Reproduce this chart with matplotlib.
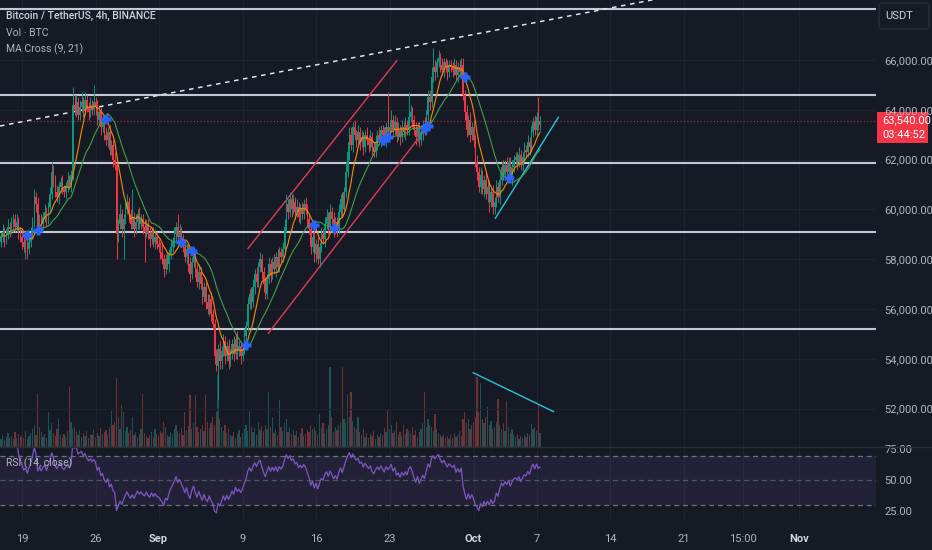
import numpy as np
import pandas as pd
import matplotlib
matplotlib.use("Agg")
import matplotlib.pyplot as plt
from matplotlib.patches import FancyBboxPatch, Rectangle
from matplotlib.lines import Line2D
from matplotlib.transforms import IdentityTransform

plt.rcParams['font.family'] = ['Liberation Sans Narrow', 'Roboto', 'DejaVu Sans']

# --- data: BTC/USDT 4h candles, days counted from Aug 19 00:00 ---
start_day = -2.0
candles_per_day = 6
first_open = 58700

closes = [
    58900, 59100, 58800, 59000, 59300, 59200,
    59400, 59600, 59300, 59500, 59100, 58900,
    58700, 58500, 58600, 58400, 58700, 59000,
    59500, 60500, 60200, 59300, 59600, 59400,
    59700, 59900, 59600, 60100, 60600, 61500,
    61200, 60700, 60500, 60900, 61100, 60800,
    60700, 60900, 61200, 61000, 61400, 64200,
    64000, 64300, 63800, 64100, 64300, 64000,
    64400, 64100, 63900, 64200, 64000, 64300,
    64100, 63600, 63900, 63300, 63500, 63000,
    62800, 63100, 62400, 62600, 62000, 61800,
    59000, 59400, 59800, 59200, 59600, 60000,
    60300, 59800, 59400, 59700, 59200, 59500,
    59800, 59400, 59600, 59300, 59100, 59400,
    59000, 58800, 59100, 58700, 58900, 58600,
    58500, 58300, 58000, 57600, 58000, 57800,
    58200, 58500, 58700, 59000, 59300, 58900,
    59100, 58800, 58500, 58100, 58400, 57800,
    57400, 57900, 58200, 57600, 57100, 57500,
    57000, 56500, 56900, 56300, 56000, 56400,
    55800, 55400, 54100, 53700, 54400, 53900,
    54300, 54700, 54100, 54500, 53900, 54200,
    54600, 54200, 54800, 54300, 54500, 54100,
    54400, 54900, 55300, 56200, 56600, 56300,
    56900, 57400, 57100, 57700, 58000, 57500,
    57000, 56600, 57200, 57800, 57400, 57900,
    57600, 58100, 57700, 58300, 58100, 58400,
    59300, 60200, 59900, 60400, 60000, 60300,
    59900, 60100, 59700, 60000, 59800, 60200,
    60000, 59600, 59200, 58500, 58900, 58200,
    58600, 58000, 58500, 59000, 58800, 59400,
    59700, 59300, 59900, 59600, 59200, 59500,
    59200, 59900, 60400, 60000, 60700, 61500,
    62300, 63000, 62600, 63300, 63000, 62800,
    63100, 62700, 62900, 62500, 63000, 62800,
    62600, 62900, 62500, 62300, 62700, 63000,
    62800, 63200, 63000, 62800, 63300, 63100,
    63300, 63600, 63200, 63500, 63000, 63200,
    62900, 63300, 63100, 63400, 63200, 63700,
    63900, 63600, 63200, 62900, 63300, 62800,
    63100, 63400, 63200, 63800, 64500, 64300,
    65300, 65700, 65500, 65900, 66100, 65800,
    65600, 65900, 65700, 65500, 65800, 65700,
    65600, 65800, 65400, 65700, 65500, 65800,
    64600, 63900, 63200, 63600, 63000, 63300,
    62800, 61900, 61500, 60900, 61400, 60800,
    61200, 60600, 60900, 60300, 60700, 60100,
    60300, 60900, 60500, 61200, 61700, 61400,
    61800, 61500, 61900, 61300, 61700, 62000,
    62100, 61900, 62200, 61800, 62100, 62400,
    62300, 62700, 62500, 63100, 63500, 63200,
    63700, 63400, 63540,
]

# wick lengths above / below the body, in hundreds of USDT
upper_wicks = [
    2, 3, 2, 2, 3, 2,  3, 2, 2, 3, 2, 2,  2, 3, 2, 2, 2, 3,
    2, 3, 2, 3, 2, 2,  2, 3, 2, 2, 3, 4,  3, 2, 3, 2, 2, 3,
    2, 2, 3, 2, 2, 7,  4, 3, 2, 3, 4, 2,  3, 2, 2, 3, 2, 7,
    2, 3, 2, 2, 3, 2,  3, 2, 3, 2, 2, 3,  3, 2, 4, 2, 2, 3,
    3, 2, 2, 11, 2, 3, 2, 3, 2, 2, 3, 2,  2, 3, 2, 2, 3, 2,
    2, 2, 3, 2, 2, 3,  2, 3, 2, 3, 2, 5,  3, 2, 2, 3, 2, 2,
    3, 2, 3, 2, 2, 3,  2, 3, 2, 2, 3, 2,  3, 2, 2, 3, 2, 3,
    2, 3, 2, 2, 3, 2,  2, 3, 2, 3, 2, 2,  2, 3, 2, 3, 2, 3,
    3, 2, 3, 2, 3, 2,  2, 3, 2, 3, 2, 2,  3, 2, 3, 2, 2, 3,
    3, 4, 2, 3, 2, 3,  2, 3, 2, 2, 3, 2,  3, 2, 2, 3, 2, 3,
    2, 3, 2, 3, 2, 3,  3, 2, 3, 2, 3, 2,  2, 3, 2, 3, 2, 4,
    4, 3, 3, 2, 3, 2,  3, 2, 3, 2, 2, 3,  2, 3, 2, 2, 3, 2,
    3, 2, 2, 3, 2, 14, 3, 4, 2, 3, 2, 3,  2, 3, 2, 3, 2, 10,
    3, 2, 2, 3, 2, 2,  3, 2, 3, 2, 3, 3,  4, 8, 3, 2, 3, 2,
    3, 2, 2, 3, 2, 2,  2, 3, 2, 2, 3, 3,  3, 2, 3, 2, 3, 2,
    3, 2, 3, 2, 3, 2,  2, 3, 2, 3, 2, 3,  2, 3, 2, 3, 2, 3,
    2, 3, 2, 2, 3, 2,  2, 2, 3, 2, 2, 3,  2, 3, 2, 3, 2, 3,
    2, 8, 2,
]
lower_wicks = [
    2, 2, 3, 2, 2, 3,  2, 3, 2, 2, 3, 2,  3, 2, 5, 4, 2, 2,
    2, 2, 3, 2, 2, 3,  2, 2, 3, 2, 2, 2,  3, 2, 2, 3, 2, 2,
    2, 3, 2, 2, 3, 2,  2, 3, 2, 2, 2, 3,  2, 2, 3, 2, 2, 2,
    3, 2, 2, 3, 2, 2,  2, 3, 2, 2, 3, 2,  10, 3, 2, 3, 12, 2,
    2, 3, 2, 2, 3, 2,  3, 2, 2, 3, 12, 2, 2, 3, 2, 2, 3, 2,
    2, 3, 2, 3, 2, 2,  3, 2, 2, 2, 3, 2,  2, 3, 2, 2, 3, 3,
    3, 2, 2, 3, 2, 3,  2, 3, 2, 3, 2, 3,  3, 2, 3, 2, 13, 3,
    3, 2, 3, 2, 3, 2,  2, 3, 2, 3, 2, 3,  2, 2, 3, 2, 2, 3,
    2, 3, 2, 2, 2, 3,  3, 2, 2, 2, 3, 2,  2, 3, 2, 2, 3, 2,
    2, 2, 3, 2, 3, 2,  3, 2, 2, 3, 2, 2,  2, 3, 2, 3, 2, 3,
    3, 2, 3, 2, 2, 3,  2, 3, 2, 2, 3, 2,  3, 2, 2, 3, 2, 2,
    2, 3, 2, 3, 2, 3,  2, 3, 2, 3, 2, 2,  3, 2, 3, 2, 2, 3,
    2, 3, 2, 2, 3, 2,  2, 2, 3, 2, 3, 2,  3, 2, 2, 3, 2, 2,
    2, 3, 2, 3, 2, 3,  2, 3, 2, 2, 2, 3,  2, 2, 3, 2, 2, 3,
    2, 3, 2, 3, 2, 2,  3, 2, 2, 3, 2, 2,  2, 3, 3, 2, 3, 2,
    3, 2, 3, 2, 3, 2,  3, 2, 3, 4, 2, 3,  3, 2, 2, 3, 2, 2,
    2, 3, 2, 2, 3, 2,  2, 3, 2, 2, 3, 2,  2, 2, 3, 2, 2, 2,
    3, 2, 2,
]

volumes = [
    8, 12, 7, 10, 14, 9,    11, 8, 15, 9, 13, 10,    12, 9, 16, 8, 11, 14,
    18, 22, 12, 53, 20, 15, 10, 13, 9, 35, 17, 24,   14, 11, 18, 28, 12, 9,
    13, 10, 16, 60, 25, 18, 20, 15, 12, 17, 10, 14,  11, 16, 9, 13, 12, 18,
    10, 14, 11, 19, 13, 15, 17, 12, 20, 36, 22, 25,  69, 30, 18, 42, 35, 16,
    20, 14, 17, 30, 12, 15, 10, 13, 18, 53, 14, 11,  9, 12, 15, 10, 18, 13,
    11, 16, 14, 25, 20, 12, 10, 15, 13, 18, 22, 16,  14, 19, 12, 35, 17, 21,
    52, 18, 24, 52, 20, 15, 18, 22, 16, 52, 25, 19,  24, 30, 22, 35, 72, 28,
    20, 16, 22, 14, 18, 12, 11, 15, 9, 13, 17, 10,   14, 18, 22, 16, 36, 20,
    15, 19, 12, 25, 17, 21, 16, 22, 18, 55, 20, 30,  14, 18, 12, 47, 20, 16,
    24, 28, 15, 20, 13, 17, 12, 16, 10, 14, 19, 11,  13, 17, 15, 22, 18, 20,
    16, 12, 33, 19, 24, 14, 18, 22, 80, 30, 15, 20,  17, 22, 25, 80, 28, 24,
    53, 30, 55, 26, 20, 18, 30, 15, 12, 18, 10, 14,  9, 13, 11, 16, 8, 12,
    10, 14, 12, 19, 15, 37, 18, 22, 14, 16, 25, 12,  15, 11, 22, 13, 18, 16,
    14, 20, 12, 17, 10, 15, 18, 24, 55, 20, 28, 22,  20, 16, 33, 18, 14, 12,
    10, 13, 9, 11, 8, 12,   9, 14, 10, 12, 16, 11,    28, 35, 24, 28, 18, 22,
    25, 30, 70, 35, 64, 28, 24, 30, 40, 22, 26, 18,  20, 25, 48, 22, 18, 24,
    16, 46, 20, 14, 18, 12, 10, 13, 8, 11, 9, 12,    10, 14, 12, 23, 18, 20,
    16, 43, 14,
]

last_price = 63540
countdown = '03:44:52'

price_ticks = [52000, 54000, 56000, 58000, 60000, 62000, 64000, 66000]
rsi_ticks = [25, 50, 75]
tick_days = [0, 7, 13, 21, 28, 35, 43, 49, 56, 63, 68.625, 74]
tick_labels = ['19', '26', 'Sep', '9', '16', '23', 'Oct', '7', '14', '21', '15:00', 'Nov']
month_labels = ['Sep', 'Oct', 'Nov']

# user drawings (day, price)
hlines = [68030, 64600, 61860, 59100, 55200]
dashed_trend = [(-2.1, 63349), (26.48, 65679)]
channel_upper = [(21.52, 58430), (35.69, 65972)]
channel_lower = [(23.46, 55024), (39.02, 63550)]
support_line = [(45.08, 59643), (51.08, 63699)]
volume_line = [(42.97, 53440), (50.62, 51880)]

# --- colours ---
BG = '#161a25'
GRID = '#1f2330'
TXT = '#b2b5be'
UP = '#089981'
DOWN = '#f23645'

# --- derived series ---
c = np.array(closes, dtype=float)
o = np.concatenate([[first_open], c[:-1]])
hi = np.maximum(o, c) + np.array(upper_wicks) * 100
lo = np.minimum(o, c) - np.array(lower_wicks) * 100
vol = np.array(volumes, dtype=float)
t = start_day + np.arange(len(c)) / candles_per_day
is_up = c >= o
cols = np.where(is_up, UP, DOWN)

s = pd.Series(c)
ma9 = s.rolling(9, min_periods=1).mean().values
ma21 = s.rolling(21, min_periods=1).mean().values
diff = np.sign(ma9 - ma21)
cross = np.where((diff[1:] != diff[:-1]) & (diff[:-1] != 0))[0] + 1
cross = cross[cross > 3]

delta = s.diff()
gain = delta.clip(lower=0).ewm(alpha=1 / 14, adjust=False, min_periods=8).mean()
loss = (-delta.clip(upper=0)).ewm(alpha=1 / 14, adjust=False, min_periods=8).mean()
rsi = (100 - 100 / (1 + gain / loss)).values

# --- figure ---
W, H = 932, 550
fig = plt.figure(figsize=(W / 100, H / 100), dpi=100, facecolor=BG)
right = 876 / W
ax = fig.add_axes([0, 103 / H, right, 447 / H])
axv = ax.twinx()
axr = fig.add_axes([0, 30 / H, right, 73 / H], sharex=ax)
ax.set_zorder(2)
axv.set_zorder(1)
ax.patch.set_visible(False)
axv.patch.set_facecolor(BG)
axr.set_facecolor(BG)

xmin, xmax = -2.095, 81.33
ax.set_xlim(xmin, xmax)
ax.set_ylim(50458, 68410)
axv.set_ylim(0, 447)
axr.set_ylim(18.1, 77.0)

for a in (ax, axv, axr):
    for sp in a.spines.values():
        sp.set_visible(False)

# volume
axv.bar(t, vol, width=0.11, color=np.where(is_up, '#26a69a', '#ef5350'), alpha=0.42, linewidth=0)
axv.set_yticks([])

# grid + axis labels
ax.yaxis.tick_right()
ax.set_yticks(price_ticks)
ax.set_yticklabels([f'{p:,.2f}' for p in price_ticks])
ax.set_xticks(tick_days)
ax.tick_params(axis='x', length=0, labelbottom=False)
ax.tick_params(axis='y', length=0, pad=6, labelsize=8, labelcolor=TXT)
ax.grid(True, color=GRID, lw=0.8)
ax.set_axisbelow(True)

# candles
ax.vlines(t, lo, hi, colors=cols, lw=0.7, zorder=3)
body = np.maximum(np.abs(c - o), 25)
ax.bar(t, body, bottom=np.minimum(o, c), width=0.12, color=cols, linewidth=0, zorder=3)

# moving averages + crosses
ax.plot(t, ma9, color='#ff8a00', lw=0.8, zorder=4)
ax.plot(t, ma21, color='#43a047', lw=0.8, zorder=4)
ax.plot(t[cross], ma9[cross], 'P', color='#2962ff', ms=7, mec='none', zorder=5)

# drawings
for lvl in hlines:
    ax.axhline(lvl, color='#c3c7d6', lw=1.5, zorder=2.5)
ax.axhline(last_price, color=DOWN, lw=0.8, ls=(0, (1, 2)), alpha=0.8, zorder=2.5)

(x0, y0), (x1, y1) = dashed_trend
slope = (y1 - y0) / (x1 - x0)
ax.plot([xmin, 75], [y0 + slope * (xmin - x0), y0 + slope * (75 - x0)],
        color='#e0e3eb', lw=1.1, ls=(0, (3, 3)), zorder=2.5)
for seg, col in [(channel_upper, '#e03b5e'), (channel_lower, '#e03b5e'),
                 (support_line, '#26c6da'), (volume_line, '#26c6da')]:
    (a0, b0), (a1, b1) = seg
    ax.plot([a0, a1], [b0, b1], color=col, lw=1.0, zorder=2.6)

# RSI pane
axr.axhspan(30, 70, color='#7e57c2', alpha=0.12, lw=0)
for lvl, al in [(70, 0.9), (50, 0.6), (30, 0.9)]:
    axr.axhline(lvl, color='#787b86', lw=0.9, ls=(0, (4, 3)), alpha=al)
axr.plot(t, rsi, color='#7e57c2', lw=0.9)
axr.yaxis.tick_right()
axr.set_yticks(rsi_ticks)
axr.set_yticklabels([f'{v:.2f}' for v in rsi_ticks])
axr.tick_params(axis='y', length=0, pad=6, labelsize=8, labelcolor=TXT)
axr.set_xticks(tick_days)
axr.set_xticklabels(tick_labels)
axr.tick_params(axis='x', length=0, pad=10, labelsize=8, labelcolor=TXT)
for lab in axr.get_xticklabels():
    if lab.get_text() in month_labels:
        lab.set_fontweight('bold')
        lab.set_color('#d1d4dc')
axr.grid(True, axis='x', color=GRID, lw=0.8)
axr.set_axisbelow(True)
axr.text(6 / 876, 64, 'RSI (14, close)', transform=axr.get_yaxis_transform(),
         fontsize=7.5, color=TXT, va='center')

fig.add_artist(Line2D([0, 1], [103 / H, 103 / H], color='#2a2e39', lw=1))

# legend texts
fig.text(6 / W, 1 - 16 / H, 'Bitcoin / TetherUS, 4h, BINANCE', fontsize=7.5,
         color='#d1d4dc', va='center', fontweight='medium')
fig.text(6 / W, 1 - 33 / H, 'Vol · BTC', fontsize=7.5, color=TXT, va='center')
fig.text(6 / W, 1 - 49 / H, 'MA Cross (9, 21)', fontsize=7.5, color=TXT, va='center')

# currency box
fig.add_artist(FancyBboxPatch((879, H - 29), 50, 26, boxstyle='round,pad=0,rounding_size=4',
                              transform=IdentityTransform(), fc=BG, ec='#2a2e39', lw=1))
fig.text(885 / W, 1 - 16 / H, 'USDT', fontsize=8, color='#d1d4dc', va='center')

# last price box
yd = ax.transData.transform((0, last_price))[1]
fig.add_artist(Rectangle((877, yd - 22), 51, 31, transform=IdentityTransform(),
                         fc=DOWN, ec='none'))
fig.text(882 / W, (yd + 1) / H, f'{last_price:,.2f}', fontsize=8, color='white', va='center')
fig.text(882 / W, (yd - 14) / H, countdown, fontsize=8, color='white', va='center')

fig.savefig('out.png', dpi=100, facecolor=BG)
